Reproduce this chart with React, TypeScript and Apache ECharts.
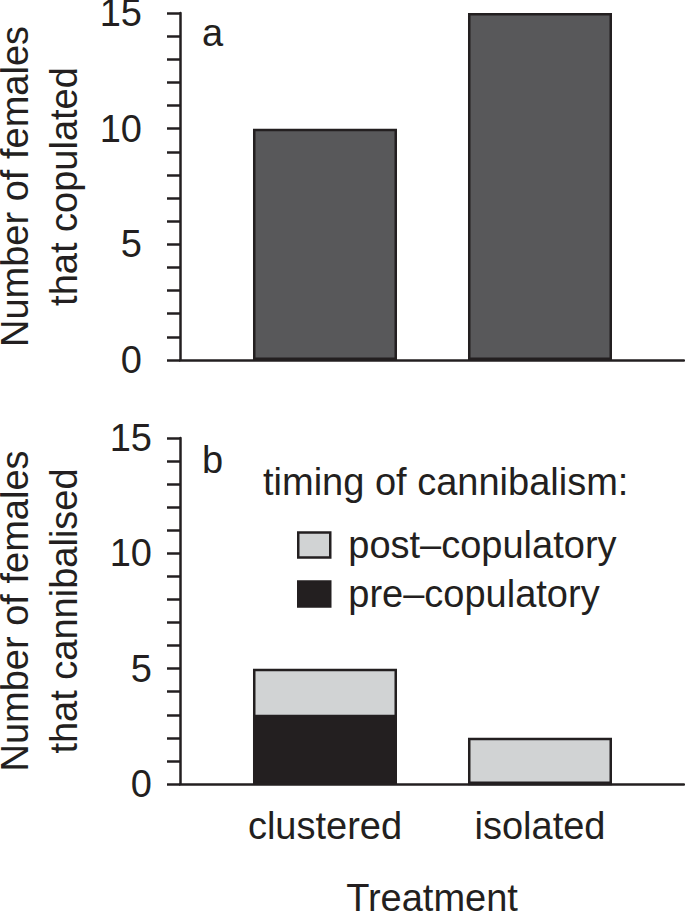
import React, { useEffect, useRef } from "react";
import * as echarts from "echarts";

const categories = ["clustered", "isolated"];
const copulated = [10, 15];
const preCopulatory = [3, 0];
const postCopulatory = [2, 2];
const yLabelValues = [0, 5, 10, 15];
const legendNames = ["post\u2013copulatory", "pre\u2013copulatory"];

const INK = "#231f20";
const FONT = "'Liberation Sans', Arial, Helvetica, sans-serif";

export default function App() {
  const ref = useRef<HTMLDivElement>(null);
  useEffect(() => {
    if (!ref.current) return;
    const chart = echarts.init(ref.current, undefined, { renderer: "svg" });
    const xBase = (gridIndex: number, showLabels: boolean) => ({
      type: "value",
      gridIndex,
      min: -0.6744,
      max: 1.6698,
      axisLine: { show: true, onZero: false, lineStyle: { color: INK, width: 2.5 } },
      axisTick: { show: false },
      splitLine: { show: false },
      axisLabel: {
        show: showLabels,
        customValues: [0, 1],
        formatter: (v: number) => categories[Math.round(v)] ?? "",
        color: INK,
        fontSize: 38,
        fontFamily: FONT,
        margin: 23,
      },
      name: showLabels ? "Treatment" : "",
      nameLocation: "middle",
      nameGap: 100,
      nameTextStyle: { color: INK, fontSize: 38, fontFamily: FONT, lineHeight: 28 },
    });
    const yBase = (gridIndex: number, line1: string, line2: string, margin: number) => ({
      type: "value",
      gridIndex,
      min: 0,
      max: 15,
      interval: 1,
      axisLine: { show: true, onZero: false, lineStyle: { color: INK, width: 2.5 } },
      axisTick: { show: true, length: 13, lineStyle: { color: INK, width: 2.5 } },
      splitLine: { show: false },
      axisLabel: {
        formatter: (v: number) => (yLabelValues.includes(v) ? String(v) : ""),
        color: INK,
        fontSize: 38,
        fontFamily: FONT,
        margin,
      },
      name: `{l1|${line1}}\n{l2|${line2}}`,
      nameLocation: "middle",
      nameGap: 82,
      nameTextStyle: {
        color: INK,
        fontSize: 38,
        fontFamily: FONT,
        rich: {
          l1: { color: INK, fontSize: 38, fontFamily: FONT, lineHeight: 30, verticalAlign: "middle" },
          l2: { color: INK, fontSize: 38, fontFamily: FONT, lineHeight: 68, verticalAlign: "middle" },
        },
      },
    });
    const border = { borderColor: INK, borderWidth: 2.5 };
    // cumulative heights for the stacked panel (post-copulatory sits on top of pre-copulatory)
    const totalCannibalised = preCopulatory.map((v, i) => v + postCopulatory[i]);
    chart.setOption({
      animation: false,
      backgroundColor: "#ffffff",
      grid: [
        { left: 180, right: 1, top: 13, height: 347, outerBoundsMode: "none", containLabel: false },
        { left: 180, right: 1, top: 438, height: 346, outerBoundsMode: "none", containLabel: false },
      ],
      xAxis: [xBase(0, false), xBase(1, true)],
      yAxis: [
        yBase(0, "Number of females", "that copulated", 38),
        yBase(1, "Number of females", "that cannibalised", 28),
      ],
      legend: {
        data: legendNames,
        orient: "vertical",
        left: 292,
        top: 521,
        itemWidth: 32,
        itemHeight: 25,
        itemGap: 11,
        icon: "rect",
        itemStyle: { borderColor: INK, borderWidth: 2.5 },
        textStyle: { color: INK, fontSize: 38, fontFamily: FONT, padding: [0, 0, 0, 13] },
      },
      graphic: [
        {
          type: "text",
          left: 202,
          top: 14,
          style: { text: "a", fill: INK, fontSize: 38, fontFamily: FONT },
        },
        {
          type: "text",
          left: 202,
          top: 441,
          style: { text: "b", fill: INK, fontSize: 38, fontFamily: FONT },
        },
        {
          type: "text",
          left: 263,
          top: 463,
          style: { text: "timing of cannibalism:", fill: INK, fontSize: 38, fontFamily: FONT },
        },
      ],
      series: [
        {
          type: "bar",
          xAxisIndex: 0,
          yAxisIndex: 0,
          barWidth: 144,
          data: copulated.map((v, i) => [i, v]),
          itemStyle: { color: "#58585a", ...border },
        },
        {
          type: "bar",
          name: legendNames[0],
          xAxisIndex: 1,
          yAxisIndex: 1,
          barWidth: 144,
          barGap: "-100%",
          data: totalCannibalised.map((v, i) => [i, v]),
          itemStyle: { color: "#d1d3d4", ...border },
        },
        {
          type: "bar",
          name: legendNames[1],
          xAxisIndex: 1,
          yAxisIndex: 1,
          barWidth: 144,
          barGap: "-100%",
          data: preCopulatory.map((v, i) => [i, v]),
          itemStyle: { color: INK, ...border },
        },
      ],
    });
    return () => chart.dispose();
  }, []);
  return (
    <div
      ref={ref}
      style={{ position: "absolute", left: 0, top: 0, width: 685, height: 913 }}
    />
  );
}
